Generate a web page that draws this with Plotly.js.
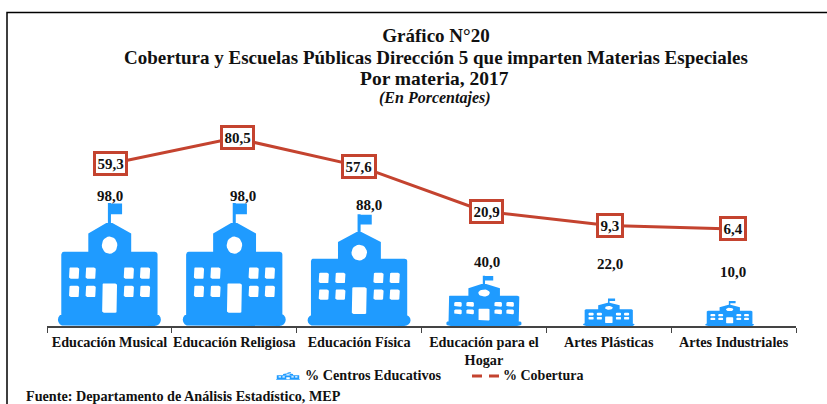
<!DOCTYPE html>
<html><head><meta charset="utf-8">
<script src="https://cdn.plot.ly/plotly-3.0.1.min.js"></script>
<style>html,body{margin:0;padding:0;background:#fff;overflow:hidden}</style>
</head><body><div id="chart" style="width:827px;height:404px"></div>
<script>
// ---- data ----
const categorias = ["Educación Musical","Educación Religiosa","Educación Física","Educación para el<br>Hogar","Artes Plásticas","Artes Industriales"];
const cobertura = [59.3,80.5,57.6,20.9,9.3,6.4];
const centros = [98,98,88,40,22,10];
// The icon heights as the reference actually draws them. They match the labels,
// except the last icon, which the reference draws about twice as tall as its 10,0 label.
const alturaIcono = [98,98,89,40,22,20];

// ---- layout constants ----
const W=827,H=404,plotL=47,plotR=796,plotT=100,plotB=326;
const iconRangeMax=180, lineRange=[-72.6,111.4];
const pxPerUnit=(plotB-plotT)/iconRangeMax, catPx=(plotR-plotL)/categorias.length;
const azul='#1F9BFF', rojo='#C4432F', tinta='#111111', serif='"Liberation Serif", serif';
const boxShiftX=[1,3,0,3,1,-1], labelShiftX=[1,9,10,3,1,-1], labelShiftY=[7,7,9,14,34,29], iconShiftPx=[0,0,0,0,0,-4];
const fmt=v=>v.toFixed(1).replace('.',',');
const py=y=>1-(y-plotT)/(plotB-plotT);
const pxPaper=x=>(x-plotL)/(plotR-plotL);

// ---- school glyph, in its own design units: 305 wide, 370 tall, y down ----
function rr(x0,y0,x1,y1,r){const p=[];const c=[[x1-r,y0+r,-90],[x1-r,y1-r,0],[x0+r,y1-r,90],[x0+r,y0+r,180]];
  c.forEach(([cx,cy,a])=>{for(let k=0;k<=4;k++){const t=(a+k*22.5)*Math.PI/180;p.push([cx+r*Math.cos(t),cy+r*Math.sin(t)]);}});return p;}
function oval(cx,cy,rx,ry){const p=[];for(let k=0;k<24;k++){const t=k*15*Math.PI/180;p.push([cx+rx*Math.cos(t),cy+ry*Math.sin(t)]);}return p;}
const solidos=[
  rr(0,332,305,370,19),
  rr(10,147,295,350,8),
  [[90,160],[90,92],[152,55],[217,92],[217,160]],
  [[148,60],[148,0],[157,0],[157,60]],
  [[150,2],[190,2],[190,34],[150,34]]
];
const huecos=[oval(153,127,23,26)];
[33,82,195,243].forEach(x=>[194,249].forEach(y=>huecos.push(rr(x,y,x+30,y+34,5))));
huecos.push(rr(131,242,175,330,5));

function iconW(hPx){return Math.min(103,1.07*hPx+22);}
function construir(polys){const xs=[],ys=[];
  alturaIcono.forEach((h,i)=>{const wU=iconW(h*pxPerUnit)/catPx, c=i+iconShiftPx[i]/catPx;
    polys.forEach(poly=>{poly.forEach(([u,v])=>{xs.push(c+(u/305-0.5)*wU);ys.push(h*(1-v/370));});
      xs.push(c+(poly[0][0]/305-0.5)*wU);ys.push(h*(1-poly[0][1]/370));xs.push(null);ys.push(null);});});
  return {xs,ys};}
const sol=construir(solidos), hue=construir(huecos);

function miniPath(polys,x0,y0,w,h){return polys.map(poly=>'M'+poly.map(([u,v])=>
  pxPaper(x0+u/305*w).toFixed(5)+','+py(y0+v/370*h).toFixed(5)).join('L')+'Z').join(' ');}

const traces=[
  {name:'% Cobertura',type:'scatter',mode:'lines',x:categorias,y:cobertura,xaxis:'x',yaxis:'y',
   line:{color:rojo,width:3},showlegend:false,hoverinfo:'skip'},
  {name:'% Centros Educativos',type:'scatter',mode:'lines',x:sol.xs,y:sol.ys,xaxis:'x2',yaxis:'y2',
   fill:'toself',fillcolor:azul,line:{width:0,color:azul},showlegend:false,hoverinfo:'skip'},
  {name:'ventanas',type:'scatter',mode:'lines',x:hue.xs,y:hue.ys,xaxis:'x2',yaxis:'y2',
   fill:'toself',fillcolor:'#fff',line:{width:0,color:'#fff'},showlegend:false,hoverinfo:'skip'}
];

const f=(s,extra)=>Object.assign({family:serif,size:s,color:tinta,weight:700},extra||{});
const annotations=[];
cobertura.forEach((v,i)=>annotations.push({xref:'x',yref:'y',x:i,y:v,text:fmt(v),showarrow:false,xshift:boxShiftX[i],
  font:f(15),bgcolor:'#fff',bordercolor:rojo,borderwidth:3,borderpad:1.5,xanchor:'center',yanchor:'middle'}));
centros.forEach((v,i)=>annotations.push({xref:'x2',yref:'y2',x:i,y:alturaIcono[i],text:fmt(v),showarrow:false,
  xshift:labelShiftX[i],yshift:labelShiftY[i],font:f(15),xanchor:'center',yanchor:'middle'}));
const nota=(text,x,y,size,anchor,extra)=>annotations.push({xref:'paper',yref:'paper',x:pxPaper(x),y:py(y),text,showarrow:false,xanchor:anchor,yanchor:'middle',font:f(size,extra),borderpad:0});
nota('Cobertura y Escuelas Públicas Dirección 5 que imparten Materias Especiales',436,57,19,'center');
nota('Por materia, 2017',434,78,19.5,'center');
nota('<i>(En Porcentajes)</i>',435,98,16,'center');
nota('% Centros Educativos',304,375,14.2,'left');
nota('% Cobertura',502,375,14,'left');
nota('Fuente: Departamento de Análisis Estadístico, MEP',25,396,14.2,'left');

const shapes=[
  {type:'path',xref:'paper',yref:'paper',path:`M${pxPaper(7)},${py(405)}L${pxPaper(7)},${py(12.5)}L${pxPaper(828)},${py(12.5)}`,line:{color:'#000',width:1.5}},
  {type:'path',xref:'paper',yref:'paper',path:miniPath(solidos,276,372,24,8),fillcolor:azul,line:{width:0}},
  {type:'path',xref:'paper',yref:'paper',path:miniPath(huecos,276,372,24,8),fillcolor:'#fff',line:{width:0}},
  {type:'line',xref:'paper',yref:'paper',x0:pxPaper(472),x1:pxPaper(500),y0:py(376),y1:py(376),line:{color:rojo,width:3,dash:'10px 7px'}}
];

Plotly.newPlot('chart',traces,{
  width:W,height:H,autosize:false,
  paper_bgcolor:'#fff',plot_bgcolor:'rgba(0,0,0,0)',showlegend:false,
  margin:{l:plotL,r:W-plotR,t:plotT,b:H-plotB,pad:0},
  title:{text:'Gráfico N°20',font:f(19),x:436/W,xanchor:'center',xref:'container',y:1-35/H,yref:'container',yanchor:'middle'},
  xaxis:{type:'category',categoryorder:'array',categoryarray:categorias,range:[-0.5,5.5],fixedrange:true,
    showgrid:false,zeroline:false,showline:true,linecolor:'#444',linewidth:1.5,ticks:'outside',tickson:'boundaries',ticklen:5,tickcolor:'#444',tickwidth:1,
    tickfont:f(14.2),tickangle:0,anchor:'y',ticklabelstandoff:2},
  yaxis:{range:lineRange,visible:false,fixedrange:true,showgrid:false,zeroline:false},
  xaxis2:{range:[-0.5,5.5],overlaying:'x',visible:false,fixedrange:true,anchor:'y2'},
  yaxis2:{range:[0,iconRangeMax],overlaying:'y',visible:false,fixedrange:true,anchor:'x2',side:'left'},
  annotations,shapes
},{displayModeBar:false,staticPlot:true});
</script></body></html>
